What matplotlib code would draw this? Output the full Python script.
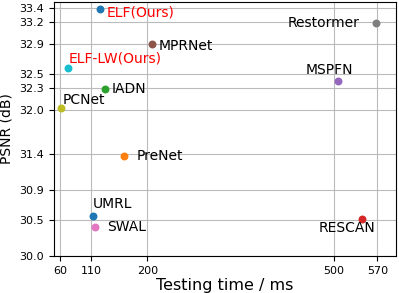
import matplotlib
matplotlib.use('Agg')
import matplotlib.pyplot as plt

# 方法名、测试时间 (ms)、PSNR (dB)
names = ['UMRL', 'PreNet', 'IADN', 'RESCAN', 'MSPFN', 'MPRNet', 'SWAL',
         'Restormer', 'PCNet', 'ELF-LW(Ours)', 'ELF(Ours)']
times = [113, 163, 132, 546, 506, 207, 116, 568, 62, 73, 124]
psnr = [30.55, 31.37, 32.29, 30.51, 32.40, 32.91, 30.40, 33.19, 32.03, 32.57, 33.38]

xticks = [60, 110, 200, 500, 570]
yticks = [30.0, 30.5, 30.9, 31.4, 32.0, 32.3, 32.5, 32.9, 33.2, 33.4]

# 标签偏移 (points) 和对齐方式
offsets = {
    'UMRL': ((0, 8.5), 'left'),
    'PreNet': ((9, 0), 'left'),
    'IADN': ((5, 0), 'left'),
    'RESCAN': ((-11, -7), 'center'),
    'MSPFN': ((-6, 8), 'center'),
    'MPRNet': ((5, -2), 'left'),
    'SWAL': ((9, 0), 'left'),
    'Restormer': ((-12, 0), 'right'),
    'PCNet': ((1, 6), 'left'),
    'ELF-LW(Ours)': ((0, 7.5), 'left'),
    'ELF(Ours)': ((5, -2), 'left'),
}

fig = plt.figure(figsize=(3.99, 2.93), dpi=100)
ax = fig.add_axes([54/399, 37/293, 342/399, 254/293])

for i, (n, t, p) in enumerate(zip(names, times, psnr)):
    ax.scatter(t, p, s=22, color=f'C{i % 10}', zorder=3)
    off, ha = offsets[n]
    c = 'red' if 'Ours' in n else 'black'
    ax.annotate(n, (t, p), xytext=off, textcoords='offset points',
                ha=ha, va='center', fontsize=10, color=c)

ax.set_xlim(50, 600)
ax.set_ylim(30.0, 33.48)
ax.set_xticks(xticks)
ax.set_xticklabels([str(v) for v in xticks])
ax.set_yticks(yticks)
ax.set_yticklabels([f'{v:.1f}' for v in yticks])
ax.tick_params(labelsize=8)
ax.grid(True, color='#bbbbbb', linewidth=0.8)
ax.set_axisbelow(True)
ax.set_xlabel('Testing time / ms', fontsize=11.5, labelpad=1.5)
ax.set_ylabel('PSNR (dB)', fontsize=10)

fig.savefig('out.png', dpi=100)
